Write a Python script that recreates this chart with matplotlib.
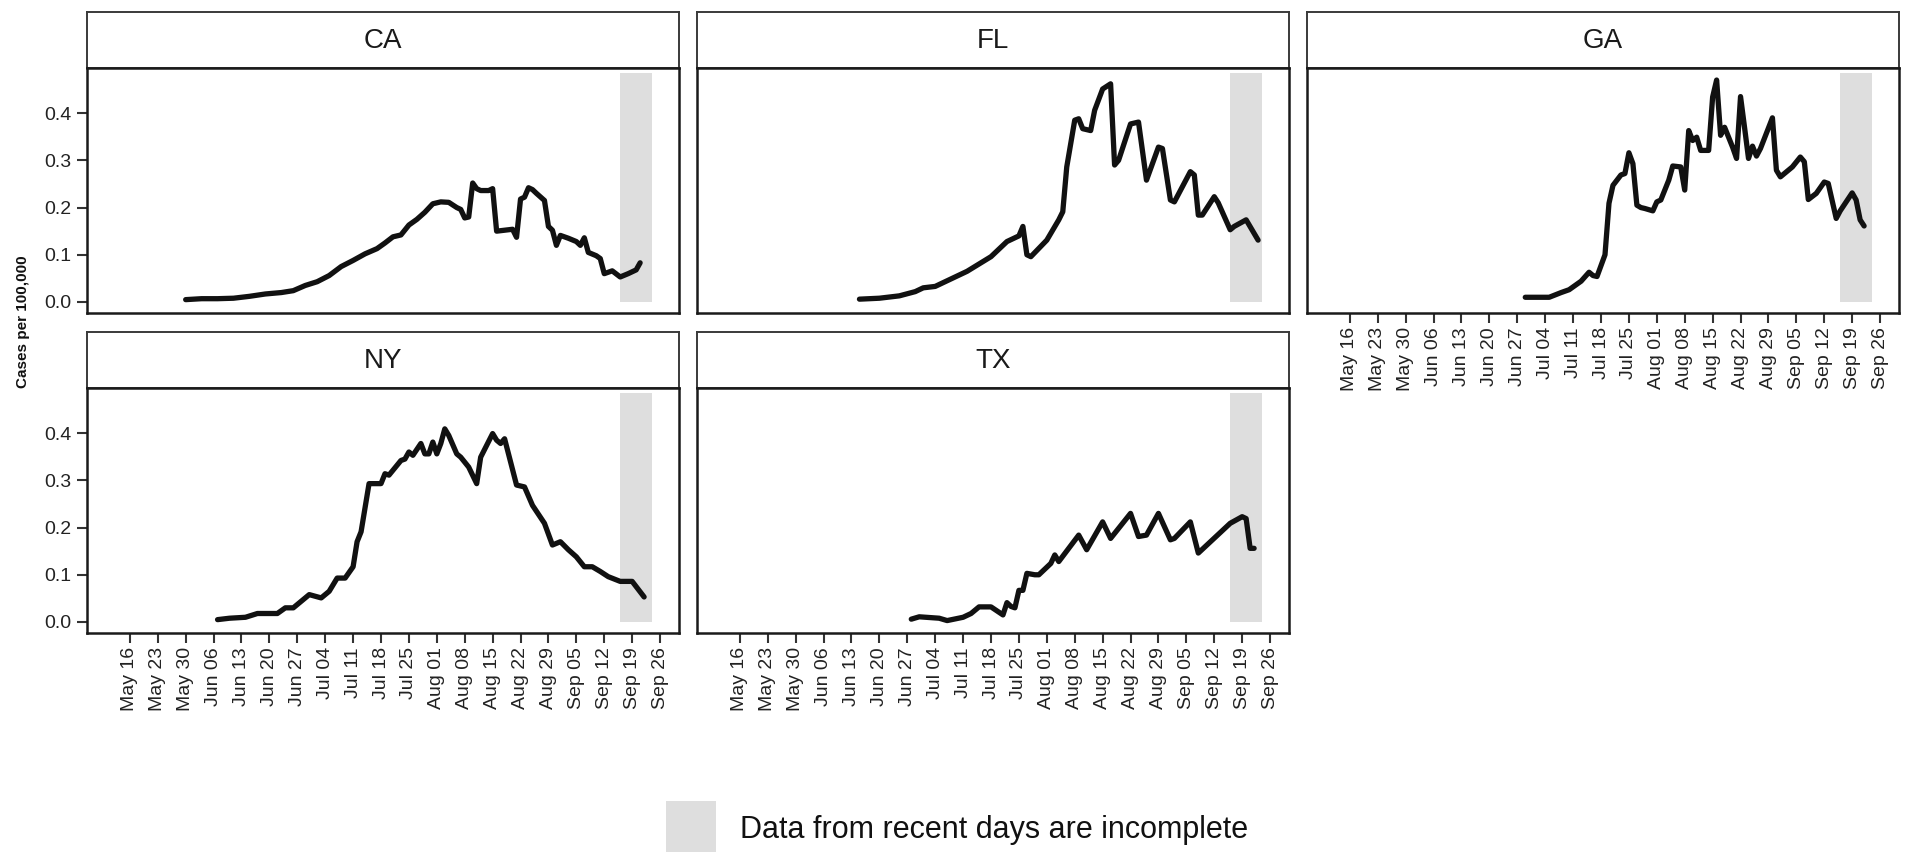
import pandas as pd
import matplotlib.pyplot as plt
import matplotlib.dates as mdates
from matplotlib.patches import Rectangle

plt.rcParams['font.family'] = ['Liberation Sans', 'DejaVu Sans']

YEAR = '2020'

# daily rate per 100,000 by state (month-day, value)
ca_days = ['05-30', '06-03', '06-07', '06-11', '06-15', '06-19', '06-23', '06-26', '06-29',
           '07-02', '07-05', '07-08', '07-11', '07-14', '07-17', '07-19', '07-21', '07-23',
           '07-25', '07-27', '07-29', '07-31', '08-02', '08-04', '08-06', '08-07', '08-08',
           '08-09', '08-10', '08-11', '08-12', '08-14', '08-15', '08-16', '08-18', '08-20',
           '08-21', '08-22', '08-23', '08-24', '08-25', '08-26', '08-28', '08-29', '08-30',
           '08-31', '09-01', '09-03', '09-05', '09-06', '09-07', '09-08', '09-10', '09-11',
           '09-12', '09-14', '09-16', '09-18', '09-20', '09-21']
ca_vals = [0.005, 0.007, 0.007, 0.008, 0.012, 0.017, 0.020, 0.024, 0.035,
           0.043, 0.056, 0.075, 0.088, 0.102, 0.113, 0.125, 0.138, 0.142,
           0.163, 0.175, 0.190, 0.208, 0.212, 0.211, 0.200, 0.196, 0.178,
           0.180, 0.252, 0.240, 0.236, 0.236, 0.240, 0.150, 0.152, 0.154,
           0.137, 0.218, 0.222, 0.242, 0.238, 0.230, 0.215, 0.160, 0.152,
           0.120, 0.141, 0.135, 0.128, 0.120, 0.136, 0.105, 0.098, 0.092,
           0.060, 0.066, 0.053, 0.060, 0.068, 0.083]

fl_days = ['06-15', '06-20', '06-25', '06-29', '07-01', '07-04', '07-12', '07-18', '07-22',
           '07-25', '07-26', '07-27', '07-28', '08-01', '08-04', '08-05', '08-06', '08-08',
           '08-09', '08-10', '08-12', '08-13', '08-15', '08-17', '08-18', '08-19', '08-22',
           '08-24', '08-26', '08-29', '08-30', '09-01', '09-02', '09-06', '09-07', '09-08',
           '09-09', '09-12', '09-13', '09-16', '09-17', '09-20', '09-23']
fl_vals = [0.006, 0.008, 0.013, 0.022, 0.030, 0.033, 0.065, 0.096, 0.128,
           0.140, 0.160, 0.100, 0.096, 0.131, 0.174, 0.191, 0.286, 0.385,
           0.388, 0.367, 0.363, 0.406, 0.451, 0.462, 0.290, 0.300, 0.377,
           0.381, 0.258, 0.328, 0.325, 0.216, 0.212, 0.276, 0.269, 0.184,
           0.184, 0.223, 0.210, 0.153, 0.160, 0.174, 0.131]

ga_days = ['06-29', '07-05', '07-08', '07-10', '07-13', '07-15', '07-16', '07-17', '07-19',
           '07-20', '07-21', '07-23', '07-24', '07-25', '07-26', '07-27', '07-28', '07-29',
           '07-31', '08-01', '08-02', '08-04', '08-05', '08-07', '08-08', '08-09', '08-10',
           '08-11', '08-12', '08-14', '08-15', '08-16', '08-17', '08-18', '08-20', '08-21',
           '08-22', '08-23', '08-24', '08-25', '08-26', '08-27', '08-30', '08-31', '09-01',
           '09-04', '09-06', '09-07', '09-08', '09-10', '09-12', '09-13', '09-15', '09-16',
           '09-19', '09-20', '09-21', '09-22']
ga_vals = [0.010, 0.010, 0.020, 0.026, 0.044, 0.063, 0.056, 0.054, 0.100,
           0.209, 0.247, 0.269, 0.272, 0.316, 0.293, 0.205, 0.200, 0.198,
           0.193, 0.212, 0.216, 0.258, 0.288, 0.286, 0.237, 0.363, 0.342,
           0.349, 0.321, 0.321, 0.434, 0.470, 0.353, 0.370, 0.328, 0.304,
           0.435, 0.370, 0.304, 0.330, 0.309, 0.325, 0.390, 0.279, 0.265,
           0.286, 0.307, 0.297, 0.217, 0.230, 0.254, 0.251, 0.177, 0.193,
           0.231, 0.216, 0.174, 0.161]

ny_days = ['06-07', '06-10', '06-14', '06-17', '06-22', '06-24', '06-26', '06-30', '07-03',
           '07-05', '07-07', '07-09', '07-11', '07-12', '07-13', '07-15', '07-17', '07-18',
           '07-19', '07-20', '07-23', '07-24', '07-25', '07-26', '07-28', '07-29', '07-30',
           '07-31', '08-01', '08-02', '08-03', '08-04', '08-06', '08-07', '08-09', '08-11',
           '08-12', '08-15', '08-16', '08-17', '08-18', '08-21', '08-23', '08-25', '08-28',
           '08-30', '09-01', '09-03', '09-05', '09-07', '09-09', '09-11', '09-13', '09-16',
           '09-19', '09-22']
ny_vals = [0.005, 0.008, 0.010, 0.018, 0.018, 0.030, 0.030, 0.058, 0.051,
           0.065, 0.093, 0.093, 0.117, 0.170, 0.191, 0.293, 0.293, 0.293,
           0.314, 0.311, 0.342, 0.345, 0.360, 0.353, 0.378, 0.356, 0.356,
           0.381, 0.356, 0.378, 0.409, 0.395, 0.356, 0.349, 0.328, 0.293,
           0.349, 0.399, 0.385, 0.378, 0.388, 0.290, 0.286, 0.247, 0.209,
           0.163, 0.170, 0.153, 0.138, 0.117, 0.117, 0.107, 0.096, 0.086,
           0.086, 0.053]

tx_days = ['06-28', '06-30', '07-05', '07-07', '07-11', '07-13', '07-15', '07-18', '07-21',
           '07-22', '07-23', '07-24', '07-25', '07-26', '07-27', '07-29', '07-30', '08-02',
           '08-03', '08-04', '08-09', '08-11', '08-15', '08-17', '08-22', '08-24', '08-26',
           '08-29', '09-01', '09-02', '09-06', '09-08', '09-16', '09-19', '09-20', '09-21',
           '09-22']
tx_vals = [0.006, 0.011, 0.008, 0.003, 0.010, 0.018, 0.032, 0.032, 0.015,
           0.041, 0.033, 0.030, 0.067, 0.067, 0.103, 0.100, 0.100, 0.124,
           0.142, 0.128, 0.184, 0.153, 0.212, 0.177, 0.230, 0.181, 0.184,
           0.230, 0.174, 0.177, 0.212, 0.146, 0.209, 0.223, 0.219, 0.156,
           0.156]

# shaded window where reporting is still incomplete
shade_start = '2020-09-16'
shade_end = '2020-09-24'
shade_top = 0.485

x_first = '2020-05-12'
x_last = '2020-09-24'
y_ticks = [0.0, 0.1, 0.2, 0.3, 0.4]

panels = [
    ('CA', ca_days, ca_vals, 0, 0),
    ('FL', fl_days, fl_vals, 0, 1),
    ('GA', ga_days, ga_vals, 0, 2),
    ('NY', ny_days, ny_vals, 1, 0),
    ('TX', tx_days, tx_vals, 1, 1),
]

W, H = 1917, 852
fig = plt.figure(figsize=(W / 100, H / 100), dpi=100)
fig.patch.set_facecolor('white')


def rect(x, y, w, h):
    return [x / W, 1 - (y + h) / H, w / W, h / H]


col_left = [87, 697, 1307]
row_top = [12, 332]
panel_w = 592
strip_h = 56
panel_h = 245

d0 = pd.Timestamp(x_first)
d1 = pd.Timestamp(x_last)
pad = (d1 - d0) * 0.05
xlim = (mdates.date2num(d0 - pad), mdates.date2num(d1 + pad))
week_ticks = pd.date_range('2020-05-16', '2020-09-26', freq='7D')

for name, days, vals, r, c in panels:
    x0 = col_left[c]
    y0 = row_top[r]

    strip = fig.add_axes(rect(x0, y0, panel_w, strip_h))
    strip.set_xticks([])
    strip.set_yticks([])
    for s in strip.spines.values():
        s.set_linewidth(1.4)
        s.set_color('#3a3a3a')
    strip.text(0.5, 0.48, name, ha='center', va='center', fontsize=20,
               color='#1a1a1a', transform=strip.transAxes)

    ax = fig.add_axes(rect(x0, y0 + strip_h, panel_w, panel_h))
    dates = pd.to_datetime([YEAR + '-' + d for d in days])

    ax.fill_between([pd.Timestamp(shade_start), pd.Timestamp(shade_end)], 0, shade_top,
                    color='#dedede', lw=0, zorder=1)
    ax.plot(dates, vals, color='#111111', lw=3.8, solid_joinstyle='round',
            solid_capstyle='round', zorder=3)

    ax.set_xlim(xlim)
    ax.set_ylim(-0.0233, 0.4955)
    for s in ax.spines.values():
        s.set_linewidth(1.8)
        s.set_color('#1a1a1a')

    ax.set_yticks(y_ticks)
    ax.set_xticks(week_ticks)
    ax.xaxis.set_major_formatter(mdates.DateFormatter('%b %d'))

    show_x = name in ('GA', 'NY', 'TX')
    show_y = c == 0
    ax.tick_params(axis='x', bottom=show_x, labelbottom=show_x, length=7, width=1.5,
                   color='#333333', labelsize=14, labelcolor='#222222',
                   labelrotation=90, pad=3)
    ax.tick_params(axis='y', left=show_y, labelleft=show_y, length=7, width=1.5,
                   color='#333333', labelsize=14, labelcolor='#222222', pad=4)
    if show_y:
        ax.set_yticklabels([f'{v:.1f}' for v in y_ticks])

fig.text(23 / W, 1 - 322 / H, 'Cases per 100,000', rotation=90, ha='center',
         va='center', fontsize=11, fontweight='bold', color='#111111')

# legend key for the shaded window
fig.patches.append(Rectangle((666 / W, 0), 50 / W, (852 - 801) / H,
                             transform=fig.transFigure, color='#dedede', lw=0))
fig.text(740 / W, 1 - 830 / H, 'Data from recent days are incomplete',
         ha='left', va='center', fontsize=22, color='#111111')

fig.savefig('out.png', dpi=100, facecolor='white')
